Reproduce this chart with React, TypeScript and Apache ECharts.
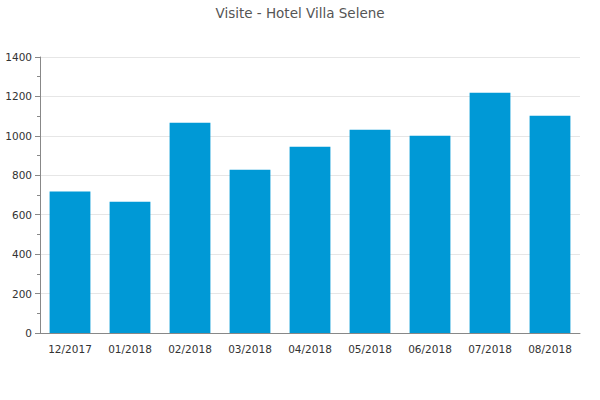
import React, { useEffect, useRef } from "react";
import * as echarts from "echarts";

const categories = ["12/2017", "01/2018", "02/2018", "03/2018", "04/2018", "05/2018", "06/2018", "07/2018", "08/2018"];
const visits = [718, 666, 1067, 828, 945, 1031, 1001, 1219, 1102];
const titleText = "Visite - Hotel Villa Selene";

export default function App() {
  const ref = useRef<HTMLDivElement>(null);
  useEffect(() => {
    const chart = echarts.init(ref.current!, null, { renderer: "svg" });
    const font = "DejaVu Sans";
    chart.setOption({
      animation: false,
      title: {
        text: titleText,
        left: "center",
        top: 1,
        textStyle: { fontFamily: font, fontSize: 13.5, fontWeight: "normal", color: "#555" },
      },
      grid: { left: 40, right: 20, top: 57, bottom: 67, containLabel: false },
      xAxis: {
        type: "category",
        data: categories,
        axisLine: { lineStyle: { color: "#888" } },
        axisTick: { show: false },
        axisLabel: { fontFamily: font, fontSize: 10.5, color: "#333", margin: 10 },
      },
      yAxis: {
        type: "value",
        min: 0,
        max: 1400,
        interval: 200,
        axisLine: { show: true, lineStyle: { color: "#888" } },
        axisTick: { show: true, length: 5, lineStyle: { color: "#888" } },
        minorTick: { show: true, splitNumber: 2, length: 3, lineStyle: { color: "#888" } },
        splitLine: { lineStyle: { color: "#e6e6e6" } },
        axisLabel: {
          fontFamily: font,
          fontSize: 10.5,
          color: "#333",
          margin: 8,
          formatter: (v: number) => String(v),
        },
      },
      series: [
        {
          type: "bar",
          data: visits,
          barCategoryGap: "32%",
          itemStyle: { color: "#0099d6" },
        },
      ],
    });
    return () => chart.dispose();
  }, []);
  return <div ref={ref} style={{ position: "absolute", left: 0, top: 0, width: 600, height: 400 }} />;
}
